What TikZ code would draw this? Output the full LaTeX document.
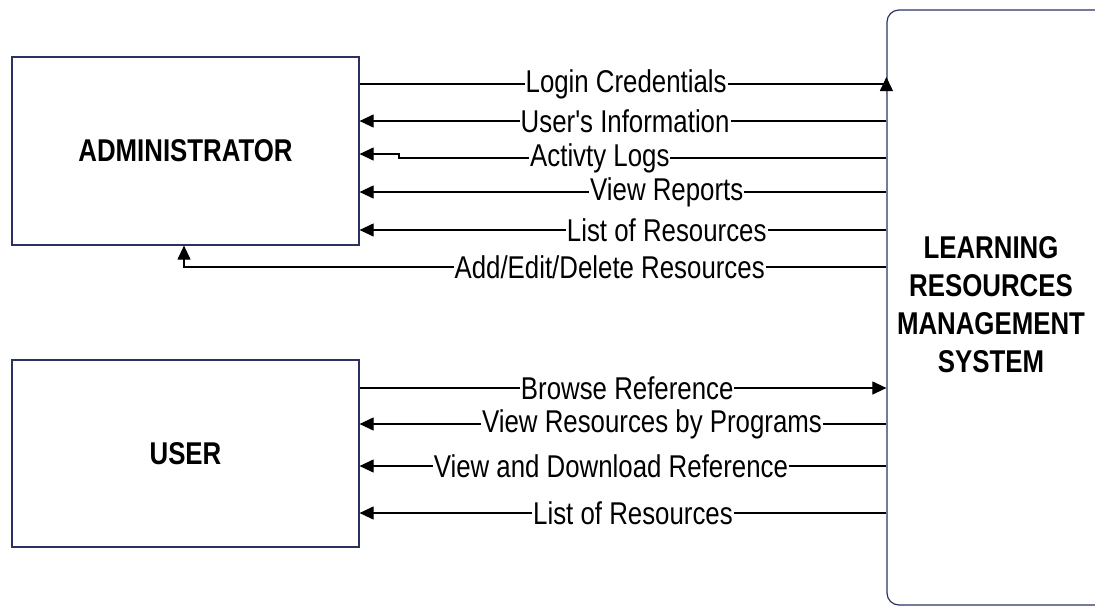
\documentclass[tikz,border=0pt]{standalone}
\usepackage{fontspec}
\setmainfont{Liberation Sans}[FakeStretch=0.82, Ligatures=TeXOff]
\usepackage{xcolor}
\definecolor{boxline}{HTML}{2B3262}
\usepackage{tikz}
\usetikzlibrary{positioning,arrows.meta}

\begin{document}
\begin{tikzpicture}[x=1pt, y=-1pt,
    every node/.style={font=\fontsize{31.5}{38}\selectfont},
    entity/.style={draw=boxline, line width=1.2pt, align=center, inner sep=0pt,
                   font=\fontsize{31.5}{38}\selectfont\bfseries},
    flow/.style={line width=1.1pt, -{Triangle[length=14pt,width=13pt]}},
    lbl/.style={fill=white, inner xsep=1pt, inner ysep=0pt}]
  \useasboundingbox (0,0) rectangle (1095,611);
  \node[entity, minimum width=347, minimum height=188] (admin) at (185.5,151) {ADMINISTRATOR};
  \node[entity, minimum width=347, minimum height=187] (user) at (185.5,453.5) {USER};
  \node[entity, rounded corners=12pt, minimum width=240, minimum height=595] (lrms) at (1007,307.5) {};
  \node[align=center, font=\fontsize{31.5}{38}\selectfont\bfseries] (lrmstext) at (991,305)
       {LEARNING\\RESOURCES\\MANAGEMENT\\SYSTEM};

  \draw[flow] (admin.east |- 0,84) -- node[lbl, pos=.506] {Login Credentials} (lrms.west |- 0,84) -- ++(0,-7);
  \draw[flow] (lrms.west |- 0,121) -- node[lbl, pos=.496] {User's Information} (admin.east |- 0,121);
  \draw[flow] (lrms.west |- 0,158) -- node[lbl, pos=.588] {Activty Logs} (399,158) -- (399,154) -- (admin.east |- 0,154);
  \draw[flow] (lrms.west |- 0,192) -- node[lbl, pos=.417] {View Reports} (admin.east |- 0,192);
  \draw[flow] (lrms.west |- 0,230) -- node[lbl, pos=.417] {List of Resources} (admin.east |- 0,230);
  \draw[flow] (lrms.west |- 0,267) -- node[lbl, pos=.394] {Add/Edit/Delete Resources} (184,267) -- (184,0 |- admin.south);

  \draw[flow] (user.east |- 0,388) -- node[lbl, pos=.508] {Browse Reference} (lrms.west |- 0,388);
  \draw[flow] (lrms.west |- 0,424) -- node[lbl, pos=.445] {View Resources by Programs} (user.east |- 0,424);
  \draw[flow] (lrms.west |- 0,466) -- node[lbl, pos=.523] {View and Download Reference} (user.east |- 0,466);
  \draw[flow] (lrms.west |- 0,513) -- node[lbl, pos=.481] {List of Resources} (user.east |- 0,513);
\end{tikzpicture}
\end{document}
